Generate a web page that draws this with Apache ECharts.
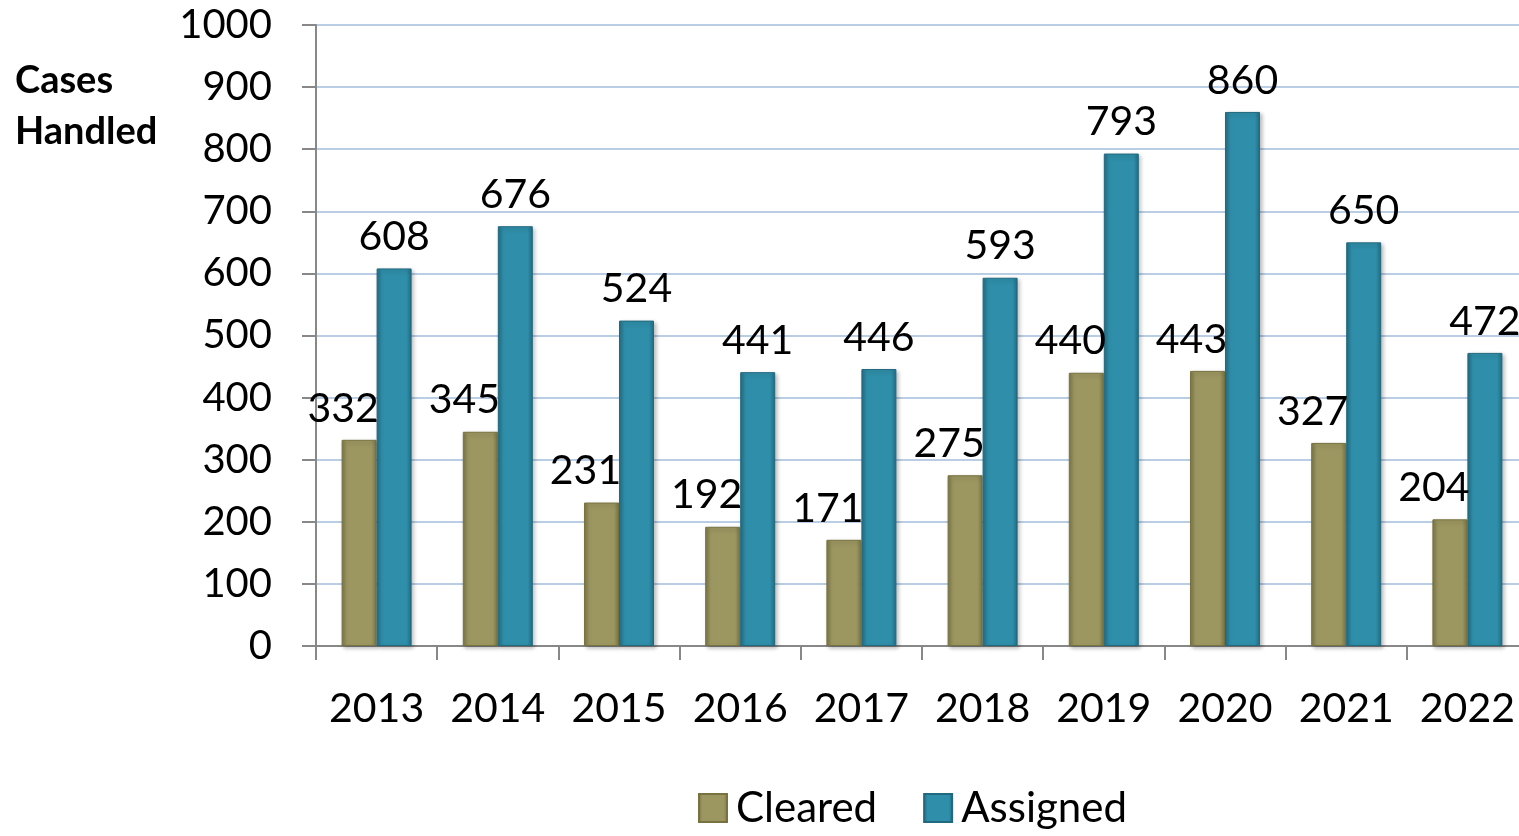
<!DOCTYPE html>
<html>
<head>
<meta charset="utf-8">
<script src="https://cdn.jsdelivr.net/npm/echarts@6/dist/echarts.min.js"></script>
<style>
  html, body { margin: 0; padding: 0; background: #fff; }
  #main { width: 1519px; height: 836px; }
</style>
</head>
<body>
<div id="main"></div>
<script>
const years = ['2013', '2014', '2015', '2016', '2017', '2018', '2019', '2020', '2021', '2022']
const cleared = [332, 345, 231, 192, 171, 275, 440, 443, 327, 204]
const assigned = [608, 676, 524, 441, 446, 593, 793, 860, 650, 472]

const font = 'Lato, "Open Sans", sans-serif'

// bevelled look: dark edges, lighter middle
function barFill(edge, mid) {
  return new echarts.graphic.LinearGradient(0, 0, 1, 0, [
    { offset: 0, color: edge },
    { offset: 0.15, color: mid },
    { offset: 0.85, color: mid },
    { offset: 1, color: edge },
  ])
}

const chart = echarts.init(document.getElementById('main'))
const option = {
  animation: false,
  textStyle: { fontFamily: font },
  title: {
    text: 'Cases\nHandled',
    left: 10,
    top: 50,
    textStyle: { fontSize: 38, fontWeight: 'bold', color: '#000', lineHeight: 51, fontFamily: font },
  },
  legend: {
    bottom: 2,
    left: 693,
    itemWidth: 28,
    itemHeight: 28,
    itemGap: 46,
    icon: 'rect',
    textStyle: { fontSize: 42, color: '#000', fontFamily: font, padding: [0, 0, 0, 4] },
    data: ['Cleared', 'Assigned'],
  },
  grid: { left: 316, top: 25, bottom: 190, width: 1212, outerBoundsMode: 'none' },
  xAxis: {
    type: 'category',
    data: years,
    axisLine: { lineStyle: { color: '#888', width: 2 } },
    axisTick: { show: true, interval: 0, length: 14, lineStyle: { color: '#888', width: 2 } },
    axisLabel: { interval: 0, fontSize: 41, color: '#000', margin: 42 },
  },
  yAxis: {
    type: 'value',
    min: 0,
    max: 1000,
    interval: 100,
    axisLine: { show: true, lineStyle: { color: '#888', width: 2 } },
    axisTick: { show: true, length: 14, lineStyle: { color: '#888', width: 2 } },
    axisLabel: { fontSize: 40, color: '#000', margin: 44, formatter: (v) => String(v) },
    splitLine: { lineStyle: { color: '#b9cde5', width: 2 } },
  },
  series: [
    {
      name: 'Cleared',
      type: 'bar',
      data: cleared,
      barWidth: 35,
      barGap: '0%',
      itemStyle: {
        color: barFill('#7b7646', '#9c9661'),
        borderColor: '#77723f',
        borderWidth: 1,
        shadowColor: 'rgba(0,0,0,0.25)',
        shadowBlur: 4,
        shadowOffsetX: 2,
        shadowOffsetY: 2,
      },
      label: {
        show: true,
        position: 'top',
        offset: [-16, -6],
        fontSize: 41,
        color: '#000',
        fontFamily: font,
      },
    },
    {
      name: 'Assigned',
      type: 'bar',
      data: assigned,
      barWidth: 35,
      itemStyle: {
        color: barFill('#226c83', '#2f8ea9'),
        borderColor: '#22687e',
        borderWidth: 1,
        shadowColor: 'rgba(0,0,0,0.25)',
        shadowBlur: 4,
        shadowOffsetX: 2,
        shadowOffsetY: 2,
      },
      label: {
        show: true,
        position: 'top',
        offset: [0, -6],
        fontSize: 41,
        color: '#000',
        fontFamily: font,
      },
    },
  ],
}
option && chart.setOption(option)
</script>
</body>
</html>
